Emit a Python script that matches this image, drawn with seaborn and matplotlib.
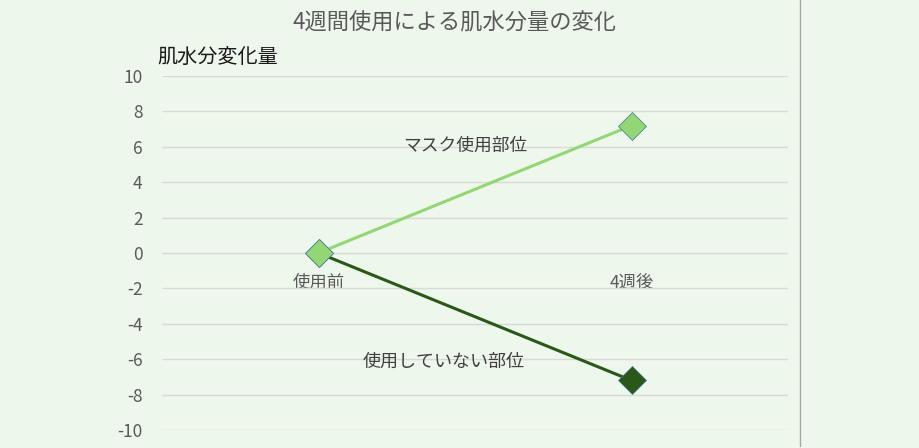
import matplotlib
matplotlib.use("Agg")
import matplotlib.pyplot as plt
from matplotlib.lines import Line2D
import seaborn as sns
import pandas as pd

categories = ["使用前", "4週後"]
series_names = ["マスク使用部位", "使用していない部位"]
masked_values = [0.0, 7.2]
unmasked_values = [0.0, -7.2]
y_ticks = [-10, -8, -6, -4, -2, 0, 2, 4, 6, 8, 10]
title = "4週間使用による肌水分量の変化"
y_label = "肌水分変化量"

df = pd.DataFrame({
    "時点": categories * 2,
    "系列": [series_names[0]] * 2 + [series_names[1]] * 2,
    "値": masked_values + unmasked_values,
})

sns.set_theme(style="white")
plt.rcParams["font.family"] = ["Noto Sans CJK JP", "DejaVu Sans"]

bg = "#EEF7EB"
light = "#92D774"
dark = "#295819"

fig = plt.figure(figsize=(9.2, 4.48), dpi=100, facecolor=bg)
ax = fig.add_axes([162 / 920, 1 - 430 / 448, (788 - 162) / 920, (430 - 76) / 448])
ax.set_facecolor(bg)

for name, col, z in [(series_names[1], dark, 3), (series_names[0], light, 4)]:
    sub = df[df["系列"] == name]
    sns.lineplot(data=sub, x="時点", y="値", color=col, linewidth=2.2,
                 marker="D", markersize=14, markeredgecolor="#41719C",
                 markeredgewidth=0.5, ax=ax, legend=False, zorder=z)

ax.set_xlim(-0.5, 1.5)
ax.set_ylim(-10, 10)
ax.set_yticks(y_ticks)
ax.set_yticklabels([str(t) for t in y_ticks])
ax.yaxis.grid(True, color="#D9D9D9", linewidth=1)
ax.set_axisbelow(True)
for s in ["top", "right", "left"]:
    ax.spines[s].set_visible(False)
ax.spines["bottom"].set_position(("data", 0))
ax.spines["bottom"].set_visible(False)
ax.tick_params(axis="x", length=0, pad=15, labelsize=12.5, labelcolor="#595959")
ax.tick_params(axis="y", length=0, pad=14, labelsize=12.5, labelcolor="#595959")
ax.set_xlabel("")
ax.set_ylabel("")

ax.text(0.47, 6.05, series_names[0], ha="center", va="center",
        fontsize=12.8, color="#404040")
ax.text(0.40, -6.15, series_names[1], ha="center", va="center",
        fontsize=13, color="#404040")

fig.text(455 / 920, 1 - 23 / 448, title, ha="center", va="center",
         fontsize=16, color="#595959")
fig.text(157 / 920, 1 - 57 / 448, y_label, ha="left", va="center",
         fontsize=14.5, color="#1A1A1A")

fig.add_artist(Line2D([800 / 920, 800 / 920], [2 / 448, 1.0],
                      transform=fig.transFigure, color="#A6A6A6", linewidth=1))

fig.savefig("out.png", dpi=100, facecolor=bg)
